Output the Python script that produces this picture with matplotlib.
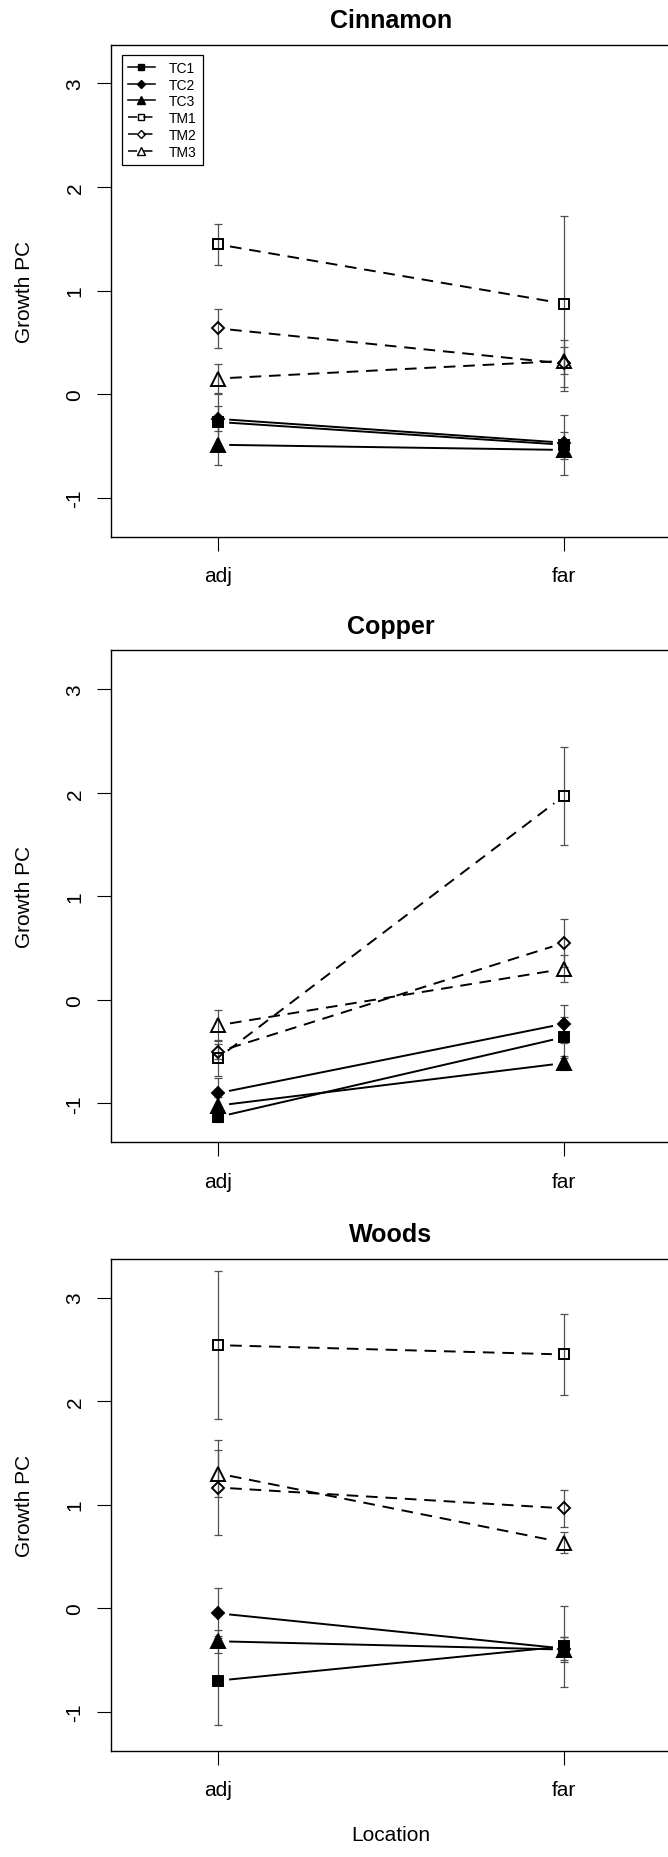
import numpy as np
import matplotlib
matplotlib.use('Agg')
import matplotlib.pyplot as plt
from matplotlib.lines import Line2D

plt.rcParams['font.family'] = ['Liberation Sans', 'DejaVu Sans']

# 処理区と場所
locations = ['adj', 'far']
treatments = ['TC1', 'TC2', 'TC3', 'TM1', 'TM2', 'TM3']
sites = ['Cinnamon', 'Copper', 'Woods']

# 平均値 (行: TC1..TM3, 列: adj, far)
cinnamon_mean = [[-0.27, -0.49], [-0.24, -0.47], [-0.49, -0.54],
                 [1.445, 0.873], [0.634, 0.295], [0.15, 0.32]]
cinnamon_se = [[0.275, 0.29], [0.12, 0.10], [0.20, 0.09],
               [0.197, 0.845], [0.19, 0.23], [0.14, 0.13]]

copper_mean = [[-1.13, -0.36], [-0.90, -0.23], [-1.02, -0.61],
               [-0.56, 1.97], [-0.50, 0.55], [-0.245, 0.30]]
copper_se = [[0.05, 0.20], [0.15, 0.185], [0.08, 0.07],
             [0.17, 0.47], [0.075, 0.23], [0.15, 0.13]]

woods_mean = [[-0.70, -0.37], [-0.05, -0.39], [-0.32, -0.40],
              [2.54, 2.45], [1.165, 0.964], [1.30, 0.633]]
woods_se = [[0.43, 0.39], [0.24, 0.11], [0.11, 0.12],
            [0.717, 0.39], [0.46, 0.18], [0.23, 0.10]]

all_mean = [cinnamon_mean, copper_mean, woods_mean]
all_se = [cinnamon_se, copper_se, woods_se]

# マーカーと線種
markers = ['s', 'D', '^', 's', 'D', '^']
msizes = [7.2, 6.6, 9.4, 7.2, 6.6, 9.4]
filled = [True, True, True, False, False, False]
dash = (0, (6.0, 4.0))
lstyles = ['-', '-', '-', dash, dash, dash]

W, H = 668, 1858
panel_tops = [45.5, 651.4, 1259.6]
panel_h = 492
x = np.array([1, 2])


def gapped_line(ax, xs, ys, gap, **kw):
    # type="b" 風に点の周りを空けて線を引く
    pts = ax.transData.transform(np.column_stack([xs, ys]))
    inv = ax.transData.inverted()
    for p0, p1 in zip(pts[:-1], pts[1:]):
        d = p1 - p0
        u = d / np.hypot(*d)
        a, b = inv.transform([p0 + u * gap, p1 - u * gap])
        ax.plot([a[0], b[0]], [a[1], b[1]], **kw)


fig = plt.figure(figsize=(W / 100, H / 100), dpi=100)

for k, site in enumerate(sites):
    top = panel_tops[k]
    ax = fig.add_axes([111 / W, 1 - (top + panel_h) / H, 560 / W, panel_h / H])
    ax.set_xlim(0.69, 2.31)
    ax.set_ylim(-1.376, 3.376)

    means = all_mean[k]
    ses = all_se[k]
    for i in range(len(treatments)):
        ax.errorbar(x, means[i], yerr=ses[i], fmt='none', ecolor='#505050',
                    elinewidth=0.9, capsize=3, capthick=0.9, zorder=1)
    for i in range(len(treatments)):
        gapped_line(ax, x, means[i], 12, color='black', lw=1.4,
                    linestyle=lstyles[i], zorder=2)
        ax.plot(x, means[i], linestyle='none', marker=markers[i],
                ms=msizes[i], mec='black', mew=1.4,
                mfc='black' if filled[i] else 'none', zorder=3)

    ax.set_xticks(x)
    ax.set_xticklabels(locations)
    ax.set_yticks([-1, 0, 1, 2, 3])
    ax.set_yticklabels(['-1', '0', '1', '2', '3'], rotation=90, va='center')
    ax.tick_params(axis='both', labelsize=15, length=10, width=0.8,
                   direction='out', color='black')
    ax.tick_params(axis='x', pad=11)
    ax.tick_params(axis='y', pad=9)
    for s in ax.spines.values():
        s.set_linewidth(1.0)

    ax.set_title(site, fontsize=18, fontweight='bold', pad=12.8)
    ax.set_ylabel('Growth PC', fontsize=15, va='center')
    ax.yaxis.set_label_coords((25 - 111) / 560, 0.5)

    if k == 0:
        handles = []
        for i, t in enumerate(treatments):
            handles.append(Line2D([], [], color='black', lw=1.1,
                                  linestyle=lstyles[i], marker=markers[i],
                                  ms=msizes[i] * 0.62, mec='black', mew=1.0,
                                  mfc='black' if filled[i] else 'none',
                                  label=t))
        leg = ax.legend(handles=handles, loc='upper left',
                        bbox_to_anchor=(11 / 560, 1 - 10 / panel_h),
                        borderaxespad=0, fontsize=10, labelspacing=0.2,
                        handlelength=1.9, handletextpad=1.0, borderpad=0.45,
                        fancybox=False, framealpha=1, edgecolor='black')
        leg.get_frame().set_linewidth(0.9)

    if k == len(sites) - 1:
        ax.set_xlabel('Location', fontsize=15, labelpad=19)

fig.savefig('out.png', dpi=100)
